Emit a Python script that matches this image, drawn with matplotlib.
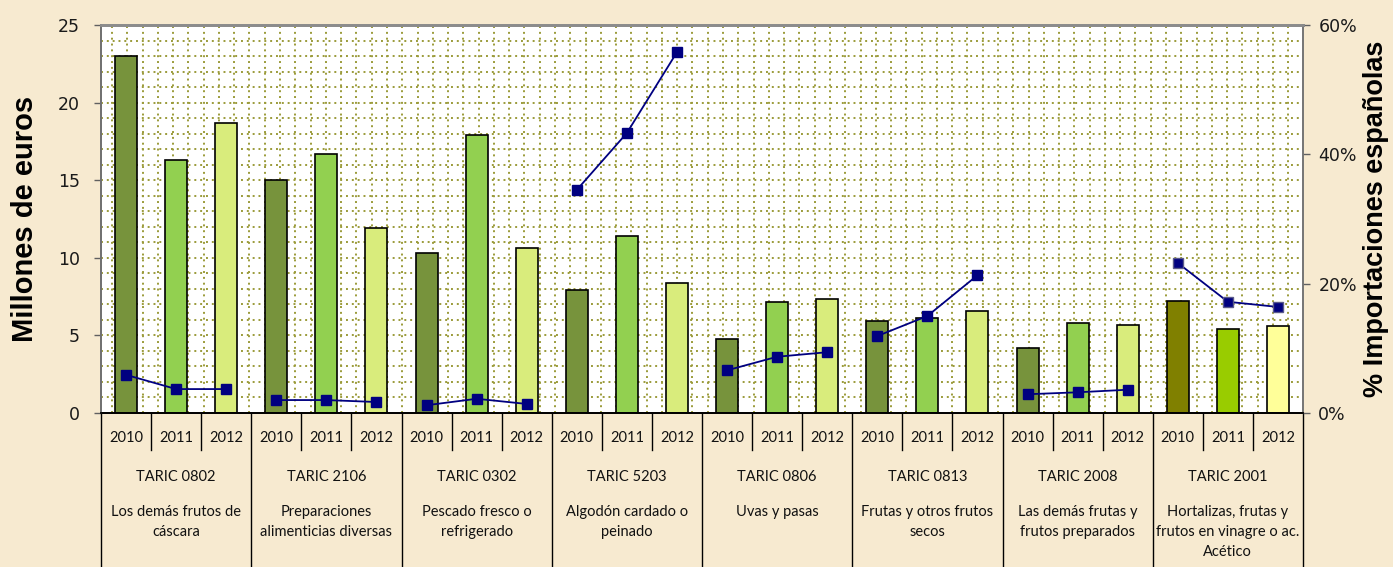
import numpy as np
import matplotlib.pyplot as plt
from matplotlib.transforms import blended_transform_factory

years = ['2010', '2011', '2012']
taric = ['TARIC 0802', 'TARIC 2106', 'TARIC 0302', 'TARIC 5203',
         'TARIC 0806', 'TARIC 0813', 'TARIC 2008', 'TARIC 2001']
descr = ['Los demás frutos de\ncáscara',
         'Preparaciones\nalimenticias diversas',
         'Pescado fresco o\nrefrigerado',
         'Algodón cardado o\npeinado',
         'Uvas y pasas',
         'Frutas y otros frutos\nsecos',
         'Las demás frutas y\nfrutos preparados',
         'Hortalizas, frutas y\nfrutos en vinagre o ac.\nAcético']

# millones de euros, per group: 2010, 2011, 2012
valores = [
    [23.0, 16.3, 18.7],
    [15.0, 16.7, 11.9],
    [10.3, 17.9, 10.6],
    [7.9, 11.4, 8.4],
    [4.8, 7.15, 7.35],
    [5.95, 6.15, 6.6],
    [4.2, 5.8, 5.7],
    [7.2, 5.4, 5.6],
]
# % importaciones españolas
porcentaje = [
    [5.9, 3.7, 3.7],
    [2.0, 2.0, 1.7],
    [1.2, 2.2, 1.4],
    [34.5, 43.3, 55.8],
    [6.6, 8.7, 9.4],
    [11.9, 15.0, 21.3],
    [2.9, 3.2, 3.6],
    [23.2, 17.2, 16.4],
]

colores = ['#77933C', '#92D050', '#D9EC7C']
colores_ultimo = ['#808000', '#99CC00', '#FFFF99']

bg = '#F7EAD0'
fig = plt.figure(figsize=(13.93, 5.67), dpi=100, facecolor=bg)
ax = fig.add_axes([101/1393, 1-413/567, 1202/1393, 388/567])
ax.set_facecolor('white')

ng = len(taric)
ax.set_xlim(-0.5, ng*3 - 0.5)
ax.set_ylim(0, 25)

# dotted grid
for yv in np.arange(1, 25, 1):
    ax.axhline(yv, color='#9B9B3A', lw=1.4, ls=(0, (1, 2)), zorder=0)
for xv in np.arange(-0.5 + 0.22, ng*3 - 0.5, 0.305):
    ax.axvline(xv, color='#9B9B3A', lw=1.4, ls=(0, (1, 2)), zorder=0)

for g in range(ng):
    cols = colores_ultimo if g == ng-1 else colores
    xs = np.arange(3) + g*3
    ax.bar(xs, valores[g], width=0.44, color=cols, edgecolor='black', lw=1.2, zorder=2)

ax2 = ax.twinx()
ax2.set_ylim(0, 60)
for g in range(ng):
    xs = np.arange(3) + g*3
    mec = '#5A5A8A' if g == ng-1 else '#000080'
    ax2.plot(xs, porcentaje[g], color='#000080', lw=1.3, marker='s', ms=7,
             mfc='#000080', mec=mec, zorder=3)

ax.set_yticks(range(0, 26, 5))
ax2.set_yticks([0, 20, 40, 60])
ax2.set_yticklabels(['0%', '20%', '40%', '60%'])
for a in (ax, ax2):
    a.tick_params(axis='y', direction='out', length=5, width=1, color='#606060',
                  labelsize=12.5, labelcolor='#1a1a1a')
    a.set_xticks([])
ax.tick_params(axis='y', pad=10)
ax2.tick_params(axis='y', pad=6)
for a in (ax, ax2):
    for s in a.spines.values():
        s.set_color('#777777')
        s.set_linewidth(1.3)
    a.spines['top'].set_color('#8C8C8C')
    a.spines['top'].set_linewidth(2)
ax.spines['bottom'].set_color('black')
ax2.spines['bottom'].set_color('black')
ax.spines['left'].set_color('#333333')

ax.set_ylabel('Millones de euros', fontsize=21, fontweight='bold',
              family='Liberation Sans', labelpad=14)
ax2.set_ylabel('% Importaciones españolas', fontsize=19.5, fontweight='bold',
               family='Liberation Sans', labelpad=4)

# multi-level category axis below the plot
tr = blended_transform_factory(ax.transData, ax.transAxes)
ph = 388.0
def ay(px):
    return -(px - 413) / ph

for g in range(ng):
    x0 = g*3 - 0.5
    ax.plot([x0, x0], [0, ay(567)], transform=tr, color='black', lw=1, clip_on=False)
    for k in (1, 2):
        ax.plot([x0 + k, x0 + k], [0, ay(450)], transform=tr, color='black', lw=1,
                clip_on=False)
    for k, yr in enumerate(years):
        ax.text(g*3 + k, ay(438), yr, transform=tr, ha='center', va='center',
                fontsize=10.5, family='Lato', color='#111111')
    ax.text(g*3 + 1, ay(477), taric[g], transform=tr, ha='center', va='center',
            fontsize=10.5, family='Lato', color='#111111')
    ax.text(g*3 + 1, ay(505), descr[g], transform=tr, ha='center', va='top',
            fontsize=10.5, family='Lato', color='#111111', linespacing=1.55)
xe = ng*3 - 0.5
ax.plot([xe, xe], [0, ay(567)], transform=tr, color='black', lw=1, clip_on=False)

fig.savefig('out.png', dpi=100, facecolor=bg)
